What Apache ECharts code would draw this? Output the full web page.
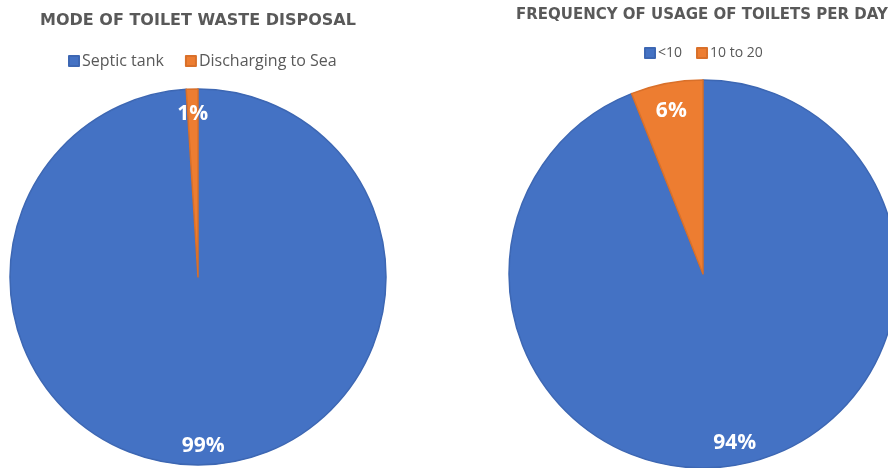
<!DOCTYPE html>
<html>
<head>
<meta charset="utf-8">
<script src="https://cdn.jsdelivr.net/npm/echarts@6/dist/echarts.min.js"></script>
<style>
html,body{margin:0;padding:0;background:#fff;}
#chart{width:888px;height:468px;}
</style>
</head>
<body>
<div id="chart"></div>
<script>
const disposalCategories = ['Septic tank', 'Discharging to Sea'];
const disposalValues = [99, 1];
const usageCategories = ['<10', '10 to 20'];
const usageValues = [94, 6];

const fills = ['#4472C4', '#ED7D31'];
const borders = ['#3d67b3', '#d9702a'];
const font = '"Open Sans", "Noto Sans", sans-serif';
const titleFont = '"DejaVu Sans", sans-serif';

function pieData(cats, vals) {
  return cats.map((c, i) => ({
    name: c, value: vals[i],
    itemStyle: { color: fills[i], borderColor: borders[i], borderWidth: 1.5 }
  }));
}
function labelData(cats, vals) {
  return cats.map((c, i) => ({ name: c, value: vals[i] }));
}
const labelStyle = {
  show: true, position: 'inside',
  formatter: p => Math.round(p.percent) + '%',
  color: '#ffffff', fontSize: 21, fontWeight: 'bold', fontFamily: font
};

const chart = echarts.init(document.getElementById('chart'));
chart.setOption({
  animation: false,
  color: fills,
  title: [
    { text: 'MODE OF TOILET WASTE DISPOSAL', left: 40, top: 13, padding: 0,
      textStyle: { color: '#595959', fontSize: 16, fontWeight: 'bold', fontFamily: titleFont } },
    { text: 'FREQUENCY OF USAGE OF TOILETS PER DAY', left: 516, top: 8, padding: 0,
      textStyle: { color: '#595959', fontSize: 15, fontWeight: 'bold', fontFamily: titleFont } }
  ],
  legend: [
    { data: disposalCategories, left: 68, top: 53, padding: 0, icon: 'rect', itemWidth: 10, itemHeight: 10, itemGap: 21,
      textStyle: { color: '#595959', fontSize: 16, fontFamily: font, padding: [0, 0, 0, -2] } },
    { data: usageCategories, left: 644, top: 46, padding: 0, icon: 'rect', itemWidth: 10, itemHeight: 10, itemGap: 14,
      textStyle: { color: '#595959', fontSize: 14, fontFamily: font, padding: [0, 0, 0, -2] } }
  ],
  series: [
    { type: 'pie', center: [198, 277], radius: 188, startAngle: 90, clockwise: true,
      data: pieData(disposalCategories, disposalValues), label: { show: false }, labelLine: { show: false },
      emphasis: { disabled: true } },
    { type: 'pie', center: [198, 280], radius: [138, 188], startAngle: 90, clockwise: true, silent: true,
      data: labelData(disposalCategories, disposalValues), itemStyle: { color: 'rgba(0,0,0,0)' },
      label: labelStyle, labelLine: { show: false } },
    { type: 'pie', center: [703, 274], radius: 194, startAngle: 90, clockwise: true,
      data: pieData(usageCategories, usageValues), label: { show: false }, labelLine: { show: false },
      emphasis: { disabled: true } },
    { type: 'pie', center: [703, 277], radius: [138, 194], startAngle: 90, clockwise: true, silent: true,
      data: labelData(usageCategories, usageValues), itemStyle: { color: 'rgba(0,0,0,0)' },
      label: labelStyle, labelLine: { show: false } }
  ]
});
</script>
</body>
</html>
